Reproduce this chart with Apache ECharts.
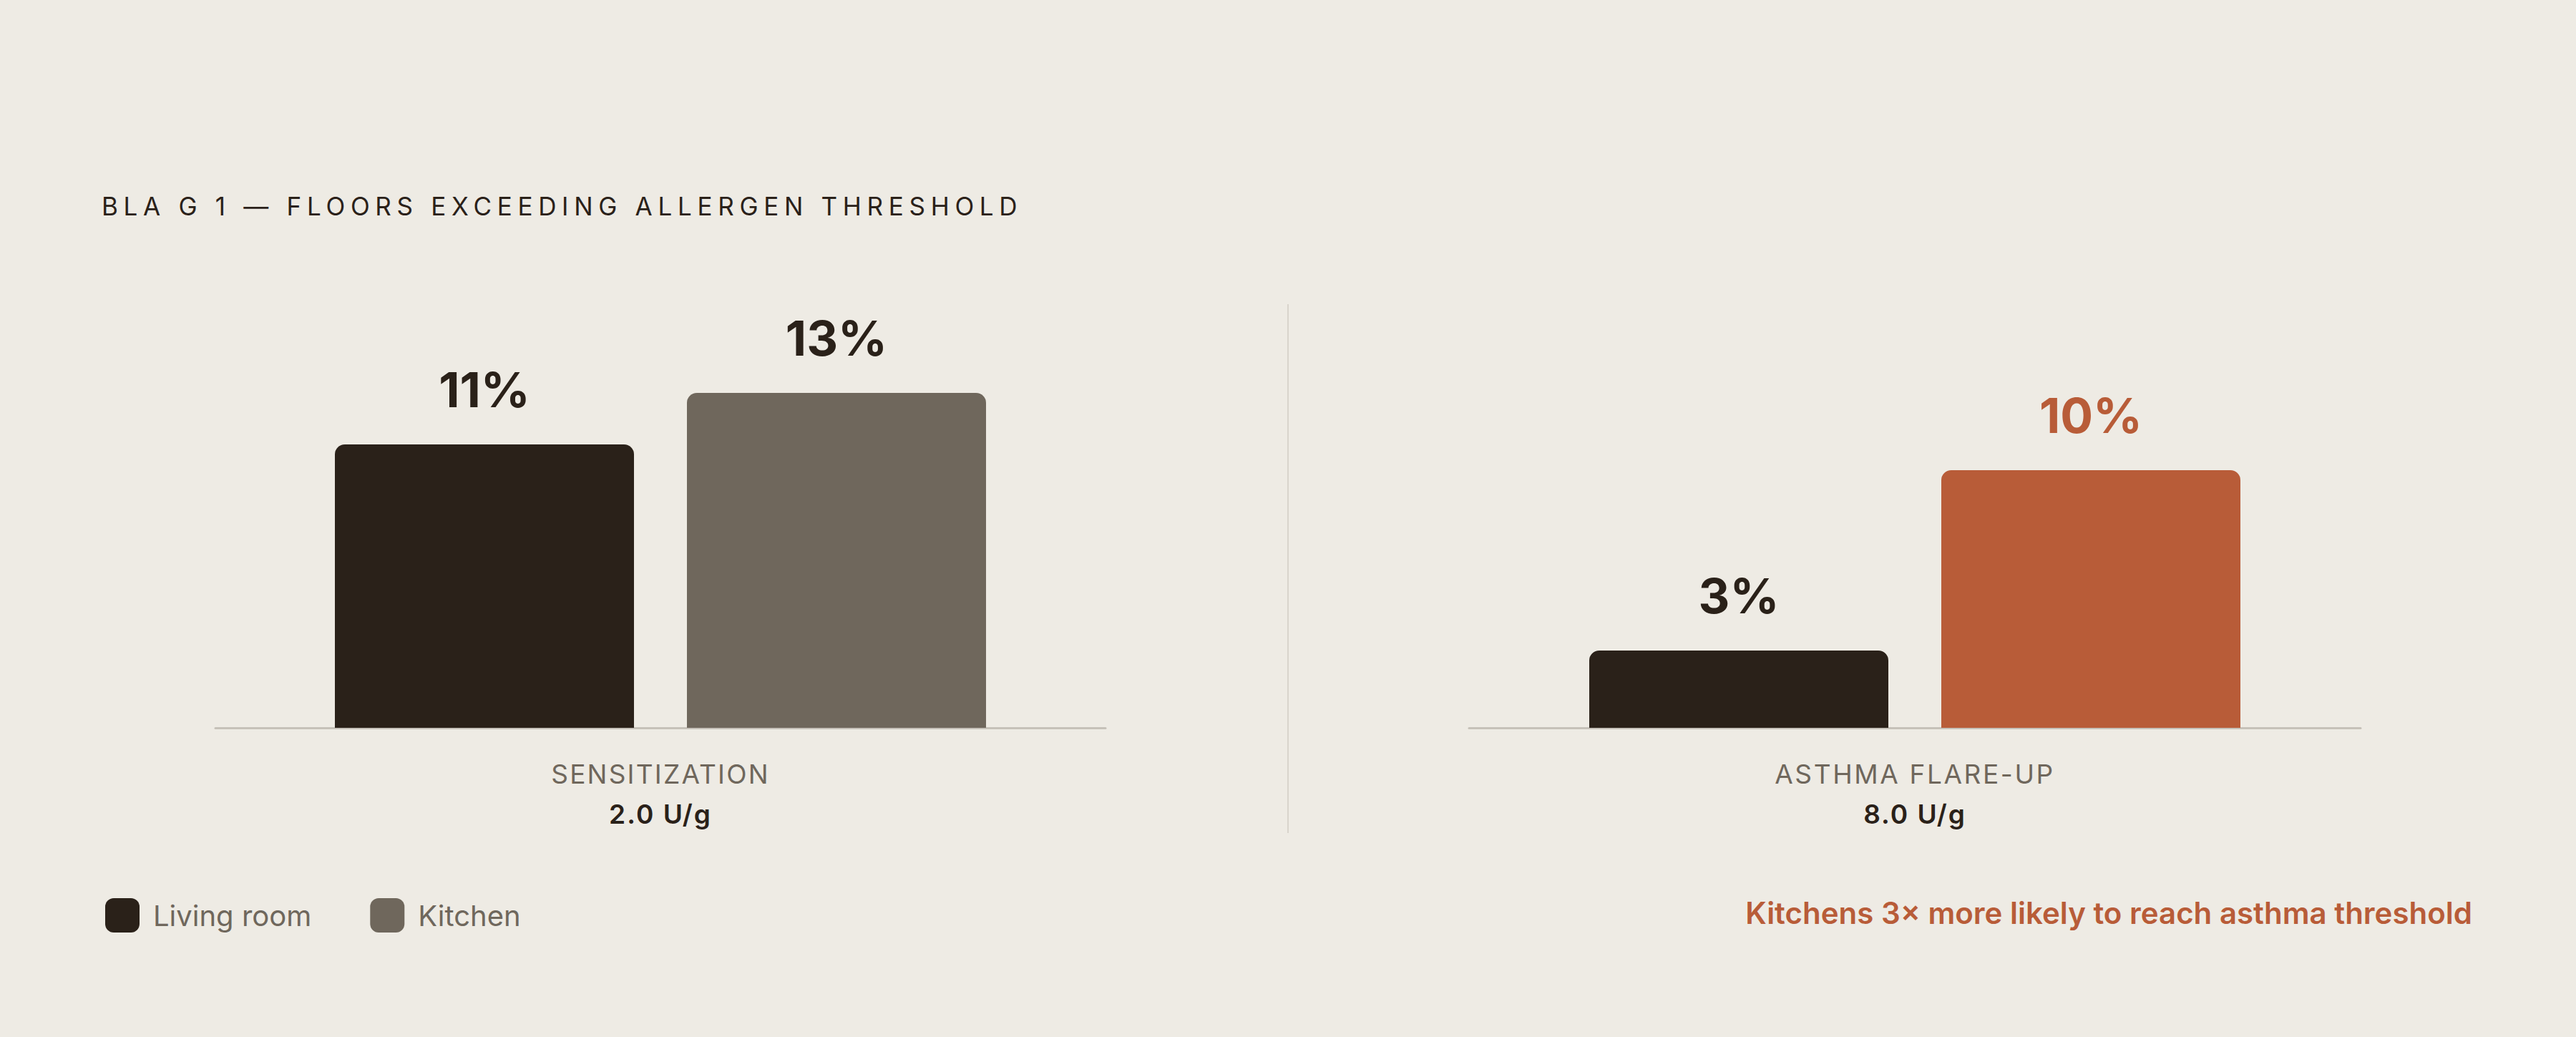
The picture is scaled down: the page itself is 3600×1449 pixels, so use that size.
<!DOCTYPE html>
<html>
<head>
<meta charset="utf-8">
<script src="https://cdn.jsdelivr.net/npm/echarts@6/dist/echarts.min.js"></script>
<style>
html,body{margin:0;padding:0;background:#eeebe4;}
#chart{width:3600px;height:1449px;}
</style>
</head>
<body>
<div id="chart"></div>
<script>
// ---- data ----
const titleText = 'BLA G 1 — FLOORS EXCEEDING ALLERGEN THRESHOLD';
const categories = ['SENSITIZATION', 'ASTHMA FLARE-UP'];
const thresholds = ['2.0 U/g', '8.0 U/g'];
const seriesNames = ['Living room', 'Kitchen'];
const livingRoom = [11, 3];
const kitchen = [13, 10];
const highlightKitchen = [false, true];
const noteText = 'Kitchens 3× more likely to reach asthma threshold';

// ---- style ----
const BG = '#eeebe4';
const DARK = '#2a2119';
const GRAY = '#6f675c';
const ORANGE = '#b85c38';
const AXIS = '#c6c1b9';
const FONT = 'Inter, "Noto Sans", sans-serif';

const chart = echarts.init(document.getElementById('chart'), null, {renderer: 'svg'});

const grids = [
  {left: 301, top: 441, width: 1244, height: 576},
  {left: 2053, top: 441, width: 1246, height: 576}
];

const xAxes = categories.map((c, i) => ({
  type: 'category',
  gridIndex: i,
  data: [c],
  axisTick: {show: false},
  axisLine: {lineStyle: {color: AXIS, width: 3}},
  axisLabel: {
    margin: 36,
    formatter: (v) => '{a|' + v + '}\n{b|' + thresholds[i] + '}',
    rich: {
      a: {fontFamily: FONT, fontSize: 37, color: GRAY, lineHeight: 56, fontWeight: 400},
      b: {fontFamily: FONT, fontSize: 37, color: DARK, lineHeight: 56, fontWeight: 600}
    }
  }
}));

const yAxes = categories.map((c, i) => ({
  type: 'value', gridIndex: i, min: 0, max: 16, show: false,
  splitLine: {show: false}
}));

const series = [];
categories.forEach((c, i) => {
  const vals = [livingRoom[i], kitchen[i]];
  seriesNames.forEach((name, s) => {
    const color = s === 0 ? DARK : GRAY;
    const hl = s === 1 && highlightKitchen[i];
    series.push({
      type: 'bar',
      name: name,
      xAxisIndex: i,
      yAxisIndex: i,
      barWidth: 418,
      barGap: '17.7%',
      itemStyle: {color: color, borderRadius: [14, 14, 0, 0]},
      label: {
        show: true, position: 'top', distance: 43,
        formatter: '{c}%',
        fontFamily: FONT, fontSize: 68, fontWeight: 700, color: DARK
      },
      data: [hl ? {value: vals[s], itemStyle: {color: ORANGE}, label: {color: ORANGE}} : vals[s]]
    });
  });
});

chart.setOption({
  backgroundColor: BG,
  animation: false,
  grid: grids,
  xAxis: xAxes,
  yAxis: yAxes,
  series: series,
  legend: {
    data: seriesNames,
    left: 142, top: 1250,
    itemWidth: 48, itemHeight: 48, itemGap: 82,
    icon: 'roundRect',
    selectedMode: false,
    textStyle: {fontFamily: FONT, fontSize: 40, color: GRAY, padding: [0, 0, 0, 14]}
  },
  graphic: [
    {
      type: 'text', left: 142, top: 270,
      style: {text: titleText, fontFamily: FONT, fontSize: 35, fill: DARK, fontWeight: 400}
    },
    {
      type: 'line',
      shape: {x1: 1800, y1: 425, x2: 1800, y2: 1164},
      style: {stroke: '#d9d4cc', lineWidth: 2}
    },
    {
      type: 'text', right: 145, top: 1254,
      style: {text: noteText, fontFamily: FONT, fontSize: 42, fill: ORANGE, fontWeight: 600}
    }
  ]
});

function spaceText() {
  document.querySelectorAll('#chart svg text').forEach(t => {
    const s = t.textContent;
    if (s === titleText) t.setAttribute('letter-spacing', '7.7px');
    else if (s === categories[0]) t.setAttribute('letter-spacing', '2.2px');
    else if (s === categories[1]) t.setAttribute('letter-spacing', '2.6px');
    else if (thresholds.indexOf(s) >= 0) t.setAttribute('letter-spacing', '2px');
  });
}
chart.on('finished', spaceText);
spaceText();
</script>
</body>
</html>
